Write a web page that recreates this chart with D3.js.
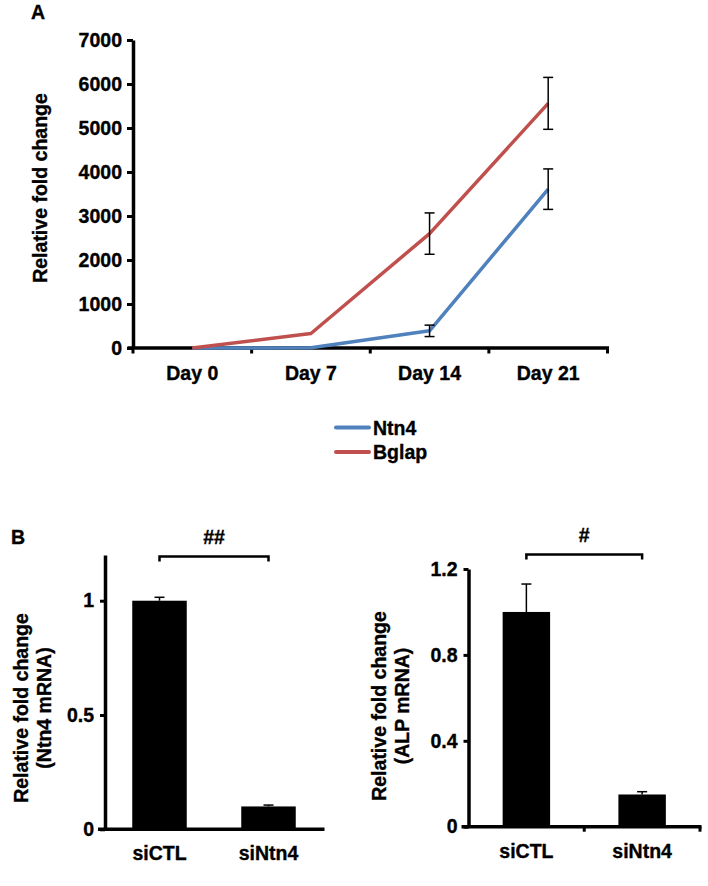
<!DOCTYPE html>
<html><head><meta charset="utf-8">
<script src="https://cdn.jsdelivr.net/npm/d3@7"></script>
<style>
body{margin:0;background:#fff;}
svg{display:block;}
text{font-family:"Liberation Sans",Arial,sans-serif;font-weight:bold;fill:#000;stroke:#000;stroke-width:0.35px;}
</style></head><body>
<svg id="c" width="708" height="886"></svg>
<script>
// ---- Panel A data ----
const days = ["Day 0","Day 7","Day 14","Day 21"];
const ntn4 = [0, 5, 390, 3610];
const ntn4Err = [null, null, 130, 460];
const bglap = [0, 330, 2600, 5560];
const bglapErr = [null, null, 470, 590];
const yTicksA = [0,1000,2000,3000,4000,5000,6000,7000];
const seriesNames = ["Ntn4","Bglap"];
const seriesColors = ["#4F81BD","#C0504D"];

// ---- Panel B data ----
const groups = ["siCTL","siNtn4"];
const ntn4mRNA = [1.0, 0.10];
const ntn4mRNAErr = [0.015, 0.006];
const alpmRNA = [1.0, 0.15];
const alpmRNAErr = [0.13, 0.013];
const yTicksB1 = [0, 0.5, 1];
const yTicksB2 = [0, 0.4, 0.8, 1.2];

const FS = "19.5px";
const svg = d3.select("#c");

function styleTicks(sel){
  sel.selectAll(".tick text").style("font-size",FS).style("font-family","Liberation Sans, Arial, sans-serif")
    .style("font-weight","bold").attr("fill","#000").attr("stroke","#000").attr("stroke-width",0.35);
}

// ===== Panel A =====
svg.append("text").attr("x",31).attr("y",19).style("font-size",FS).text("A");
const xA = d3.scaleBand().domain(days).range([133,607.5]);
const yA = d3.scaleLinear().domain([0,7000]).range([348,40]);
const gA = svg.append("g");
const yAxA = gA.append("g").attr("transform","translate(133,0)")
  .call(d3.axisLeft(yA).tickValues(yTicksA).tickSize(6).tickPadding(5).tickSizeOuter(0).tickFormat(d3.format("d")));
yAxA.select(".domain").attr("stroke","#000").attr("stroke-width",3.5);
yAxA.selectAll(".tick line").attr("stroke","#000").attr("stroke-width",3);
styleTicks(yAxA);
const edges = d3.range(days.length+1).map(i => xA.range()[0] + i*xA.step());
gA.append("line").attr("x1",127.5).attr("x2",edges[edges.length-1]+1.5).attr("y1",yA(0)).attr("y2",yA(0))
  .attr("stroke","#000").attr("stroke-width",3.5);
gA.selectAll(".xt").data(edges).join("line").attr("x1",d=>d).attr("x2",d=>d)
  .attr("y1",yA(0)).attr("y2",yA(0)+5.5).attr("stroke","#000").attr("stroke-width",3);
gA.selectAll(".xl").data(days).join("text").attr("x",d=>xA(d)+xA.bandwidth()/2).attr("y",380)
  .attr("text-anchor","middle").style("font-size",FS).text(d=>d);
gA.append("text").attr("transform","translate(47,188) rotate(-90)").attr("text-anchor","middle")
  .style("font-size",FS).text("Relative fold change");
const seriesA = [
  {name:seriesNames[0], vals:ntn4, err:ntn4Err, color:seriesColors[0]},
  {name:seriesNames[1], vals:bglap, err:bglapErr, color:seriesColors[1]}
];
const lineGen = d3.line().x((d,i)=>xA(days[i])+xA.bandwidth()/2).y(d=>yA(d));
seriesA.forEach(s=>{
  gA.append("path").attr("d",lineGen(s.vals)).attr("fill","none").attr("stroke",s.color)
    .attr("stroke-width",3.5).attr("stroke-linejoin","round");
});
seriesA.forEach(s=>{
  s.vals.forEach((v,i)=>{
    const e = s.err[i]; if(e==null) return;
    const cx = xA(days[i])+xA.bandwidth()/2;
    const g = gA.append("g").attr("stroke","#000").attr("stroke-width",1.5);
    g.append("line").attr("x1",cx).attr("x2",cx).attr("y1",yA(v-e)).attr("y2",yA(v+e));
    g.append("line").attr("x1",cx-5).attr("x2",cx+5).attr("y1",yA(v-e)).attr("y2",yA(v-e));
    g.append("line").attr("x1",cx-5).attr("x2",cx+5).attr("y1",yA(v+e)).attr("y2",yA(v+e));
  });
});
const leg = svg.append("g");
seriesA.forEach((s,i)=>{
  const y = 427.5 + i*24.5;
  leg.append("line").attr("x1",336).attr("x2",369).attr("y1",y).attr("y2",y)
    .attr("stroke",s.color).attr("stroke-width",4).attr("stroke-linecap","round");
  leg.append("text").attr("x",373).attr("y",y+7).style("font-size",FS).text(s.name);
});

// ===== Panel B =====
svg.append("text").attr("x",11).attr("y",544).style("font-size",FS).text("B");

function barChart(opt){
  const g = svg.append("g");
  const y = d3.scaleLinear().domain([0,1.2]).range([opt.y0,opt.y12]);
  const x = d3.scaleBand().domain(groups).range([opt.x0,opt.x1]).paddingInner(opt.pad).paddingOuter(opt.pad/2);
  g.selectAll(".bar").data(opt.vals).join("rect")
    .attr("x",(d,i)=>x(groups[i])).attr("width",x.bandwidth())
    .attr("y",d=>y(d)).attr("height",d=>y(0)-y(d)).attr("fill","#000");
  opt.vals.forEach((v,i)=>{
    const cx = x(groups[i])+x.bandwidth()/2;
    const top = y(v+opt.err[i]);
    g.append("line").attr("x1",cx).attr("x2",cx).attr("y1",y(v)).attr("y2",top).attr("stroke","#000").attr("stroke-width",1.5);
    g.append("line").attr("x1",cx-5).attr("x2",cx+5).attr("y1",top).attr("y2",top).attr("stroke","#000").attr("stroke-width",1.5);
  });
  const ya = g.append("g").attr("transform",`translate(${opt.x0},0)`)
    .call(d3.axisLeft(y).tickValues(opt.ticks).tickSize(5).tickPadding(6).tickSizeOuter(0).tickFormat(d=>String(d)));
  ya.select(".domain").attr("stroke","#000").attr("stroke-width",3.5);
  ya.selectAll(".tick line").attr("stroke","#000").attr("stroke-width",3);
  styleTicks(ya);
  g.append("line").attr("x1",opt.x0-7).attr("x2",opt.x1+1.5).attr("y1",y(0)).attr("y2",y(0)).attr("stroke","#000").attr("stroke-width",3.5);
  if(opt.xticks){
    [opt.x0+(opt.x1-opt.x0)/2, opt.x1].forEach(t=>{
      g.append("line").attr("x1",t).attr("x2",t).attr("y1",y(0)).attr("y2",y(0)+5).attr("stroke","#000").attr("stroke-width",3);
    });
  }
  g.selectAll(".xl").data(groups).join("text").attr("x",(d)=>x(d)+x.bandwidth()/2).attr("y",opt.y0+31)
    .attr("text-anchor","middle").style("font-size",FS).text(d=>d);
  g.append("text").attr("transform",`translate(${opt.lx},${opt.ly}) rotate(-90)`).attr("text-anchor","middle")
    .style("font-size",FS).text("Relative fold change");
  g.append("text").attr("transform",`translate(${opt.lx+23},${opt.ly}) rotate(-90)`).attr("text-anchor","middle")
    .style("font-size",FS).text(opt.label2);
  const bx1 = x(groups[0])+x.bandwidth()/2, bx2 = x(groups[1])+x.bandwidth()/2;
  g.append("path").attr("d",`M${bx1},${opt.by+5}V${opt.by}H${bx2}V${opt.by+5}`).attr("fill","none")
    .attr("stroke","#000").attr("stroke-width",2.5);
  g.append("text").attr("x",(bx1+bx2)/2).attr("y",opt.by-13).attr("text-anchor","middle")
    .style("font-size",FS).text(opt.sig);
}

barChart({x0:105, x1:323, y0:829.3, y12:555, pad:0.5, vals:ntn4mRNA, err:ntn4mRNAErr, ticks:yTicksB1,
  label2:"(Ntn4 mRNA)", lx:28, ly:708, by:556.5, sig:"##", xticks:false});
barChart({x0:468.5, x1:700, y0:826.7, y12:569, pad:0.59, vals:alpmRNA, err:alpmRNAErr, ticks:yTicksB2,
  label2:"(ALP mRNA)", lx:386, ly:706, by:554.5, sig:"#", xticks:true});
</script>
</body></html>
